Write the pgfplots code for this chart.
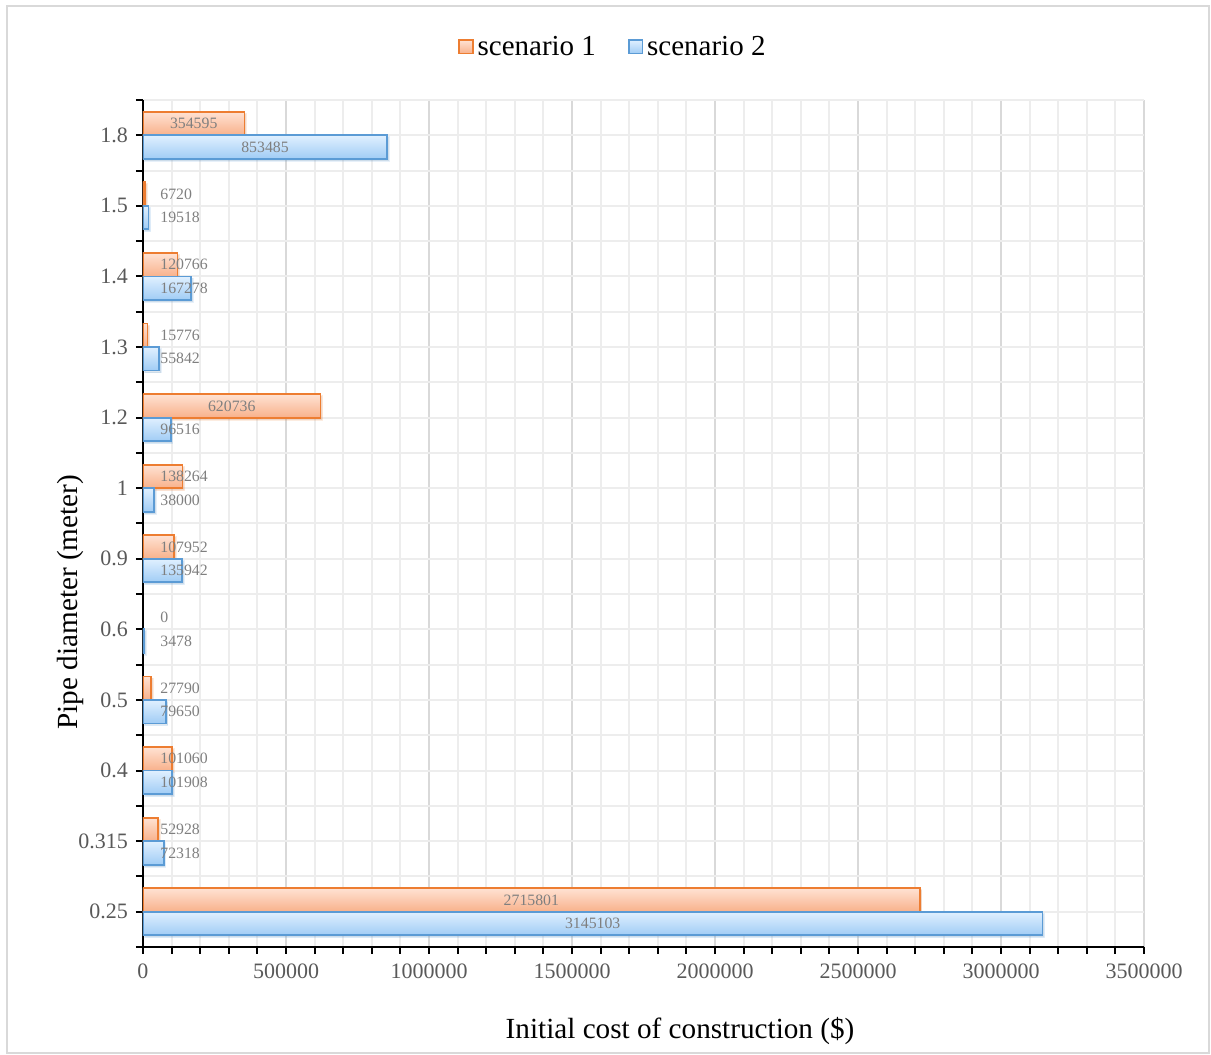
\documentclass[border=0pt]{standalone}
\usepackage{fontspec}
\setmainfont{Liberation Serif}
\usepackage{pgfplots}
\usepackage{pgfplotstable}
\pgfplotsset{compat=1.18}
\usetikzlibrary{shadows}

\definecolor{orangeEdge}{HTML}{ED7D31}
\definecolor{orangeTop}{HTML}{FFE2D3}
\definecolor{orangeBot}{HTML}{F8B18B}
\definecolor{blueEdge}{HTML}{5B9BD5}
\definecolor{blueTop}{HTML}{E0F0FF}
\definecolor{blueBot}{HTML}{A0CCF5}
\definecolor{tickGray}{HTML}{595959}
\definecolor{labelGray}{HTML}{7F7F7F}
\definecolor{frameGray}{HTML}{D9D9D9}

% y = category index (0.25 m ... 1.8 m), s1/s2 = cost per scenario
\pgfplotstableread{
y  s1       s2
0  2715801  3145103
1  52928    72318
2  101060   101908
3  27790    79650
4  0        3478
5  107952   135942
6  138264   38000
7  620736   96516
8  15776    55842
9  120766   167278
10 6720     19518
11 354595   853485
}\costtable

\pgfplotsset{
  vallabel/.style={draw=none, forget plot, point meta=explicit symbolic,
    nodes near coords,
    every node near coord/.append style={anchor=#1, inner sep=0pt,
      font=\fontsize{7.9}{9}\selectfont, text=labelGray}},
  barone/.style={xbar, bar width=0.333, bar shift=0.1667, forget plot,
    draw=orangeEdge, line width=0.9pt, top color=orangeTop, bottom color=orangeBot,
    drop shadow={opacity=0.15, shadow xshift=0.9pt, shadow yshift=-1pt}},
  bartwo/.style={xbar, bar width=0.333, bar shift=-0.1667, forget plot,
    draw=blueEdge, line width=0.9pt, top color=blueTop, bottom color=blueBot,
    drop shadow={opacity=0.15, shadow xshift=0.9pt, shadow yshift=-1pt}},
}

\begin{document}
\begin{tikzpicture}
\path (0pt,0pt) rectangle (605.5pt,527.5pt);
\draw[frameGray, line width=1pt] (3.5pt,1pt) rectangle (604.5pt,524.5pt);
\begin{axis}[
  at={(71.5pt,54pt)}, anchor=south west,
  scale only axis, width=500.5pt, height=423.5pt,
  xmin=0, xmax=3500000, ymin=-0.5, ymax=11.5,
  scaled x ticks=false,
  axis lines*=left,
  axis line style={-, line width=1pt, black},
  xtick={0,500000,...,3500000},
  xticklabels={0,500000,1000000,1500000,2000000,2500000,3000000,3500000},
  minor x tick num=4,
  ytick={0,...,11},
  yticklabels={0.25,0.315,0.4,0.5,0.6,0.9,1,1.2,1.3,1.4,1.5,1.8},
  minor ytick={-0.5,0.5,...,11.5},
  tick align=outside,
  major tick length=3.5pt, minor tick length=3.5pt,
  tick style={black, line width=1pt},
  grid=both,
  major x grid style={color=black!15, line width=1pt},
  minor x grid style={color=black!7, line width=1pt},
  major y grid style={color=black!7, line width=1pt},
  minor y grid style={color=black!7, line width=1pt},
  ticklabel style={font=\fontsize{11}{13}\selectfont, text=tickGray},
  xticklabel style={yshift=-1.5pt},
  yticklabel style={xshift=-0.5pt},
  xlabel={Initial cost of construction (\$)},
  ylabel={Pipe diameter (meter)},
  label style={font=\fontsize{14.6}{17}\selectfont, text=black},
  xlabel style={at={(rel axis cs:0.5365,-0.0992)}, anchor=center},
  ylabel style={at={(rel axis cs:-0.0729,0.407)}, anchor=center},
  legend columns=2,
  legend style={at={(rel axis cs:0.4705,1.0626)}, anchor=center, draw=none,
    fill=none, font=\fontsize{14.5}{17}\selectfont,
    /tikz/every even column/.append style={column sep=14pt}},
  legend cell align=left,
]
% one bar per path so that every bar carries its own gradient
\pgfplotsinvokeforeach{0,...,11}{
  \addplot[barone, restrict expr to domain={\thisrow{y}}{#1:#1},
           restrict x to domain=0.5:10000000]
    table[x=s1, y=y] {\costtable};
  \addplot[bartwo, restrict expr to domain={\thisrow{y}}{#1:#1},
           restrict x to domain=0.5:10000000]
    table[x=s2, y=y] {\costtable};
}
\addlegendimage{legend image code/.code={\draw[draw=orangeEdge, line width=0.8pt,
  top color=orangeTop, bottom color=orangeBot] (0pt,-3.3pt) rectangle (6.8pt,3.5pt);}}
\addlegendentry{scenario 1}
\addlegendimage{legend image code/.code={\draw[draw=blueEdge, line width=0.8pt,
  top color=blueTop, bottom color=blueBot] (0pt,-3.3pt) rectangle (6.8pt,3.5pt);}}
\addlegendentry{scenario 2}
% value labels: centred inside long bars ...
\addplot[vallabel=center, restrict expr to domain={\thisrow{s1}}{300000:10000000}]
  table[x expr={\thisrow{s1}/2}, y expr={\thisrow{y}+0.1667}, meta=s1] {\costtable};
\addplot[vallabel=center, restrict expr to domain={\thisrow{s2}}{300000:10000000}]
  table[x expr={\thisrow{s2}/2}, y expr={\thisrow{y}-0.1667}, meta=s2] {\costtable};
% ... and at a fixed offset from the axis for short ones
\addplot[vallabel=west, restrict expr to domain={\thisrow{s1}}{-1:300000}]
  table[x expr={59440}, y expr={\thisrow{y}+0.1667}, meta=s1] {\costtable};
\addplot[vallabel=west, restrict expr to domain={\thisrow{s2}}{-1:300000}]
  table[x expr={59440}, y expr={\thisrow{y}-0.1667}, meta=s2] {\costtable};
\end{axis}
\end{tikzpicture}
\end{document}
